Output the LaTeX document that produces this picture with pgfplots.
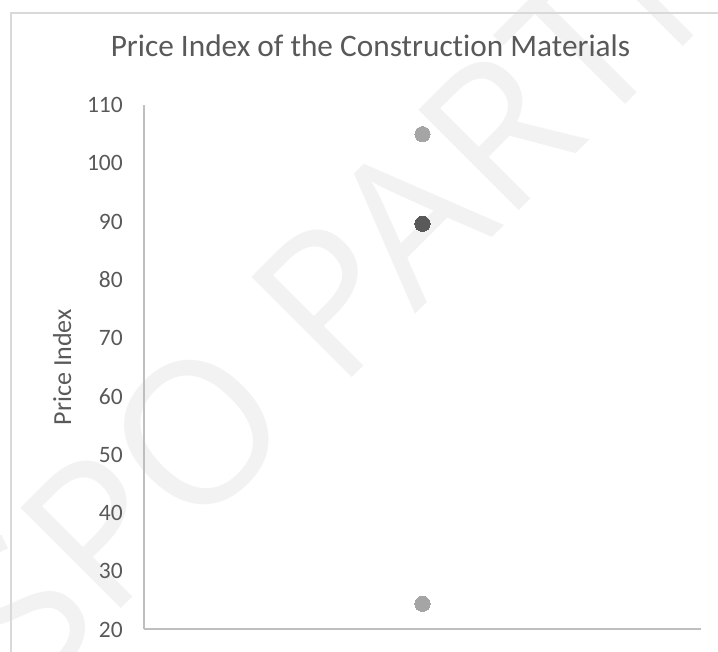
\documentclass[border=0pt]{standalone}
\usepackage{fontspec}
\setmainfont{Carlito}[Ligatures=NoCommon]
\newfontfamily\wmfont{Open Sans}
\usepackage{pgfplots}
\pgfplotsset{compat=1.18}
\definecolor{txt}{HTML}{595959}
\definecolor{axisgray}{HTML}{BFBFBF}
\definecolor{framegray}{HTML}{D9D9D9}
\definecolor{wm}{HTML}{F2F2F2}
\definecolor{lightpt}{HTML}{A5A5A5}
\definecolor{darkpt}{HTML}{595959}

\begin{document}
\begin{tikzpicture}[x=1pt,y=1pt]
\path[use as bounding box] (0,0) rectangle (718,652);
\clip (0,0) rectangle (718,652);
% watermark behind the chart
\node[rotate=45, anchor=base west, inner sep=0pt, text=wm,
      font=\wmfont\fontsize{199}{240}\selectfont] at (30,-48) {SPO PARTNERS};
% chart area frame
\draw[framegray, line width=2pt] (11,-5) -- (11,639.3) -- (730,639.3);
\begin{axis}[
  at={(144pt,22.5pt)}, anchor=south west,
  scale only axis, width=557pt, height=524.5pt,
  xmin=0, xmax=2, ymin=20, ymax=110,
  axis x line=bottom, axis y line=left,
  axis line style={-, axisgray, line width=2pt},
  xtick=\empty,
  ytick={20,30,...,110},
  major tick length=0pt,
  /pgf/number format/assume math mode=true,
  yticklabel style={font=\fontsize{23.5}{28}\selectfont, text=txt,
                    inner sep=0pt, anchor=east, xshift=-21pt},
  title={Price Index of the Construction Materials},
  title style={at={(axis description cs:0.4066,1.0801)}, anchor=base,
               font=\fontsize{31.3}{37}\selectfont, text=txt, inner sep=0pt},
  ylabel={Price Index},
  every axis y label/.style={at={(axis description cs:-0.147,0.5)},
               rotate=90, anchor=center,
               font=\fontsize{26}{31}\selectfont, text=txt, inner sep=0pt},
  clip=false,
]
\addplot[lightpt, only marks, mark=*, mark size=7.6pt,
         mark options={draw=lightpt, fill=lightpt, line width=0pt}]
  coordinates {(1,105) (1,24.4)};
\addplot[darkpt, only marks, mark=*, mark size=7.6pt,
         mark options={draw=darkpt, fill=darkpt, line width=0pt}]
  coordinates {(1,89.6)};
\end{axis}
\end{tikzpicture}
\end{document}
